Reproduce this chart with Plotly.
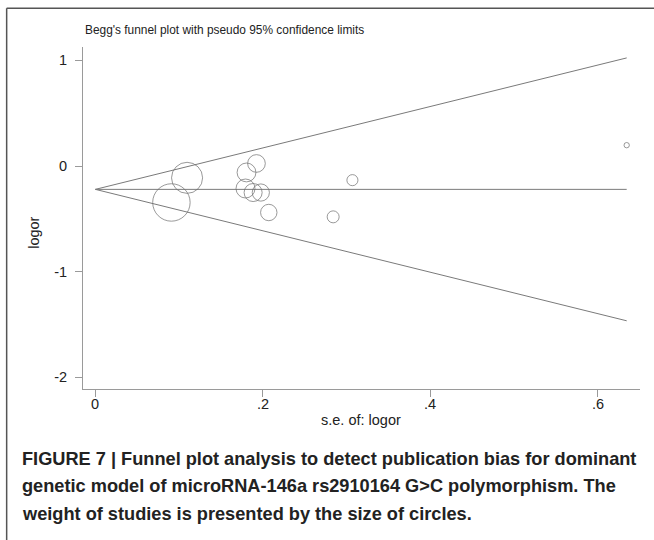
import plotly.graph_objects as go

# ---- data ----
se_logor = [0.0908, 0.1095, 0.1924, 0.1805, 0.1793, 0.1884, 0.1976, 0.2071, 0.2840, 0.3070, 0.6346]
logor = [-0.345, -0.112, 0.024, -0.061, -0.213, -0.251, -0.251, -0.440, -0.481, -0.134, 0.197]
pooled_logor = -0.221
x_tick_vals = [0, 0.2, 0.4, 0.6]
x_tick_text = ["0", ".2", ".4", ".6"]
y_tick_vals = [1, 0, -1, -2]
y_tick_text = ["1", "0", "-1", "-2"]

W, H = 654, 540
L, R, T, B = 83.3, 640.0, 46.7, 389.0


def px(x):
    return (x - L) / (R - L)


def py(y):
    return (B - y) / (B - T)


se_max = max(se_logor)
line_col = "#7a7a7a"
fig = go.Figure()

# pseudo 95% confidence limits
fig.add_trace(go.Scatter(x=[0, se_max], y=[pooled_logor, pooled_logor + 1.96 * se_max],
                         mode="lines", line=dict(color=line_col, width=1), hoverinfo="skip"))
fig.add_trace(go.Scatter(x=[0, se_max], y=[pooled_logor, pooled_logor - 1.96 * se_max],
                         mode="lines", line=dict(color=line_col, width=1), hoverinfo="skip"))
fig.add_trace(go.Scatter(x=[0, se_max], y=[pooled_logor, pooled_logor],
                         mode="lines", line=dict(color=line_col, width=1), hoverinfo="skip"))

# studies, size by weight (1/se^2 -> radius ~ 1/se)
sizes = [3.4 / s for s in se_logor]
fig.add_trace(go.Scatter(x=se_logor, y=logor, mode="markers",
                         marker=dict(symbol="circle-open", size=sizes, color="#6e6e6e",
                                     line=dict(width=1, color="#6e6e6e"))))

axis_common = dict(showline=True, linecolor="#9a9a9a", linewidth=1, ticks="outside",
                   ticklen=7, tickcolor="#9a9a9a", tickwidth=1, showgrid=False, zeroline=False,
                   tickfont=dict(family="Liberation Sans, Arial", size=14.5, color="#222"))

fig.update_layout(
    width=W, height=H, showlegend=False,
    paper_bgcolor="white", plot_bgcolor="white",
    margin=dict(l=L, r=W - R, t=T, b=H - B, pad=0),
    xaxis=dict(range=[-0.0148, 0.6505], tickvals=x_tick_vals, ticktext=x_tick_text,
               showticklabels=False, **axis_common),
    yaxis=dict(range=[-2.110, 1.126], tickvals=y_tick_vals, ticktext=y_tick_text,
               ticklabelstandoff=5, **axis_common),
    font=dict(family="Liberation Sans, Arial"),
)

ann = []
for v, t in zip(x_tick_vals, x_tick_text):
    ann.append(dict(text=t, x=v, y=py(404), xref="x", yref="paper", xanchor="center",
                    yanchor="middle", showarrow=False, font=dict(size=14.5, color="#222")))
ann.append(dict(text="Begg's funnel plot with pseudo 95% confidence limits", x=px(83), y=py(30),
                xref="paper", yref="paper", xanchor="left", yanchor="middle", showarrow=False,
                font=dict(size=11.9, color="#222")))
ann.append(dict(text="logor", x=px(34), y=py(233), xref="paper", yref="paper", textangle=-90,
                xanchor="center", yanchor="middle", showarrow=False, font=dict(size=14.5, color="#222")))
ann.append(dict(text="s.e. of: logor", x=px(361), y=py(420), xref="paper", yref="paper",
                xanchor="center", yanchor="middle", showarrow=False, font=dict(size=14.5, color="#222")))
caption = ["FIGURE 7 | Funnel plot analysis to detect publication bias for dominant",
           "genetic model of microRNA-146a rs2910164 G>C polymorphism. The",
           "weight of studies is presented by the size of circles."]
for i, c in enumerate(caption):
    ann.append(dict(text="<b>" + c.replace(">", "&gt;") + "</b>", x=px(20), y=py(459 + 27.5 * i),
                    xref="paper", yref="paper", xanchor="left", yanchor="middle", showarrow=False,
                    font=dict(size=18.2, color="#222")))
fig.update_layout(annotations=ann)

# outer frame (top and left edges)
fig.add_shape(type="line", xref="paper", yref="paper", x0=px(7), x1=px(W + 5), y0=py(8), y1=py(8),
              line=dict(color="#555", width=1.5))
fig.add_shape(type="line", xref="paper", yref="paper", x0=px(7), x1=px(7), y0=py(8), y1=py(H + 5),
              line=dict(color="#555", width=1.5))

fig.write_html("out.html")
